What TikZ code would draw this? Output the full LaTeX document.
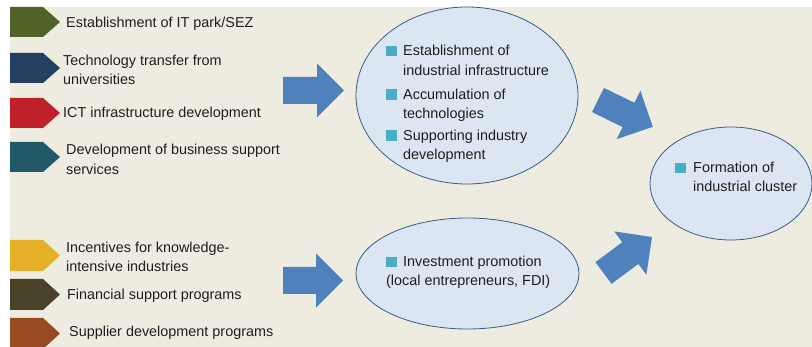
\documentclass[tikz,border=0pt]{standalone}
\usepackage{fontspec}
\setmainfont{Liberation Sans}
\usetikzlibrary{shapes.geometric}
\definecolor{bg}{HTML}{EEECE1}
\definecolor{cgreen}{HTML}{4F6228}
\definecolor{cnavy}{HTML}{243F60}
\definecolor{cred}{HTML}{C0202A}
\definecolor{cteal}{HTML}{215968}
\definecolor{cyellow}{HTML}{E6AF28}
\definecolor{colive}{HTML}{494429}
\definecolor{cbrown}{HTML}{984A22}
\definecolor{arrowblue}{HTML}{4F81BD}
\definecolor{ellfill}{HTML}{DCE6F2}
\definecolor{ellline}{HTML}{385D8A}
\definecolor{bul}{HTML}{4BACC6}
\definecolor{txt}{HTML}{1E1E1E}
\newcommand\chevron[3]{% color, top, bottom
  \fill[#1] (10,#2) -- (43,#2) -- (60,{(#2+#3)/2}) -- (43,#3) -- (10,#3) -- cycle;}
\newcommand\blockarrow[4]{% x, y, angle, length
  \fill[arrowblue, shift={(#1,#2)}, rotate=#3]
    (0,-13.5) -- ({#4-27},-13.5) -- ({#4-27},-27) -- (#4,0) -- ({#4-27},27) -- ({#4-27},13.5) -- (0,13.5) -- cycle;}
\newcommand\bullsq[2]{\fill[bul] (#1,#2) rectangle ++(11,10.5);}
\begin{document}
\begin{tikzpicture}[x=1pt,y=-1pt,
  lbl/.style={anchor=base west, inner sep=0pt, text=txt, font=\fontsize{14.4}{17}\selectfont},
  ell/.style={ellipse, draw=ellline, fill=ellfill, line width=0.8pt, inner sep=0pt}]
\useasboundingbox (0,0) rectangle (812,347);
\fill[white] (0,0) rectangle (812,347);
\fill[bg] (10,7) rectangle (812,347);
% chevrons
\chevron{cgreen}{7}{37}
\chevron{cnavy}{53}{83}
\chevron{cred}{98}{128}
\chevron{cteal}{142}{172}
\chevron{cyellow}{240}{271}
\chevron{colive}{279}{310}
\chevron{cbrown}{318}{349}
% left labels
\node[lbl] (t1) at (66,28) {Establishment of IT park/SEZ};
\node[lbl] (t2a) at (63,66) {Technology transfer from};
\node[lbl] (t2b) at (63,85) {universities};
\node[lbl] (t3) at (63,118) {ICT infrastructure development};
\node[lbl] (t4a) at (66,155) {Development of business support};
\node[lbl] (t4b) at (66,175) {services};
\node[lbl] (t5a) at (66,253) {Incentives for knowledge-};
\node[lbl] (t5b) at (66,272) {intensive industries};
\node[lbl] (t6) at (67,300) {Financial support programs};
\node[lbl] (t7) at (69,337) {Supplier development programs};
% block arrows
\blockarrow{283}{90.5}{0}{61}
\blockarrow{283}{280.5}{0}{60}
\blockarrow{598}{100}{-26.1}{61}
\blockarrow{603.5}{273}{36.6}{60.4}
% ellipses
\node[ell, minimum width=222pt, minimum height=177pt] (e1) at (467,95.5) {};
\node[ell, minimum width=223pt, minimum height=111pt] (e2) at (467.5,273.5) {};
\node[ell, minimum width=162pt, minimum height=113pt] (e3) at (731,183.5) {};
% ellipse 1 text
\bullsq{386}{46}
\node[lbl] (a1) at (403,56) {Establishment of};
\node[lbl] (a2) at (403,76) {industrial infrastructure};
\bullsq{386}{89.5}
\node[lbl] (b1) at (403,100) {Accumulation of};
\node[lbl] (b2) at (403,119) {technologies};
\bullsq{386}{130.5}
\node[lbl] (c1) at (403,141) {Supporting industry};
\node[lbl] (c2) at (403,160) {development};
% ellipse 2 text
\bullsq{385.5}{257}
\node[lbl] (d1) at (403,267) {Investment promotion};
\node[lbl] (d2) at (386,286) {(local entrepreneurs, FDI)};
% ellipse 3 text
\bullsq{674.5}{163}
\node[lbl] (f1) at (693,173) {Formation of};
\node[lbl] (f2) at (693,192) {industrial cluster};
\end{tikzpicture}
\end{document}
